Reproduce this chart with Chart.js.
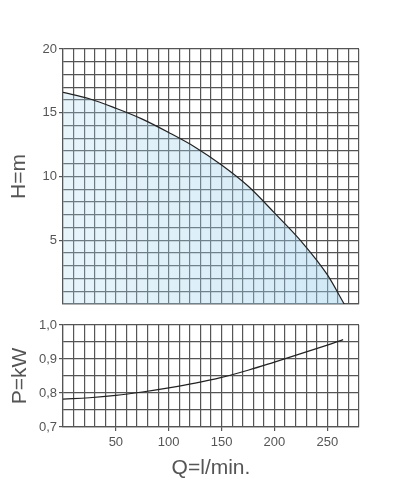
<!DOCTYPE html>
<html>
<head>
<meta charset="utf-8">
<script src="https://cdn.jsdelivr.net/npm/chart.js@4"></script>
<style>
  body { margin: 0; background: #fff; }
  .box { position: absolute; left: 0; }
</style>
</head>
<body>
<div class="box" style="top:0"><canvas id="headChart" width="396" height="320"></canvas></div>
<div class="box" style="top:300px"><canvas id="powerChart" width="396" height="190"></canvas></div>
<script>
// head curve H (m) against flow Q (l/min)
const headQ = [0, 25, 50, 75, 100, 125, 150, 175, 200, 225, 250, 266];
const headH = [16.6, 16.1, 15.35, 14.5, 13.45, 12.3, 10.9, 9.25, 7.15, 4.95, 2.3, 0];

// absorbed power P (kW) against flow Q (l/min)
const powerQ = [0, 25, 50, 75, 100, 125, 150, 175, 200, 225, 250, 265];
const powerP = [0.782, 0.786, 0.793, 0.803, 0.815, 0.829, 0.846, 0.867, 0.891, 0.916, 0.941, 0.957];

const headTicks = [5, 10, 15, 20];
const powerTicks = [0.7, 0.8, 0.9, 1.0];
const flowTicks = [50, 100, 150, 200, 250];

const FONT = "'Liberation Sans', Arial, sans-serif";
const GRID = '#555';
const TEXT = '#555';

function points(xs, ys) {
  return xs.map((x, i) => ({ x: x, y: ys[i] }));
}

function gridOpts(isMajor) {
  return {
    color: GRID,
    lineWidth: 1.2,
    tickLength: 4,
    tickColor: ctx => (ctx.tick && isMajor(ctx.tick.value)) ? GRID : 'rgba(0,0,0,0)'
  };
}

// light blue area, a little stronger toward the right like the print
function headFill(ctx) {
  const area = ctx.chart.chartArea;
  if (!area) return 'rgba(170, 215, 238, 0.35)';
  const g = ctx.chart.ctx.createLinearGradient(area.left, 0, area.right, 0);
  g.addColorStop(0, 'rgba(170, 215, 238, 0.28)');
  g.addColorStop(1, 'rgba(150, 205, 235, 0.45)');
  return g;
}

const isHeadTick = v => headTicks.includes(v);
const isPowerTick = v => powerTicks.some(t => Math.abs(t - v) < 1e-6);
const isFlowTick = v => flowTicks.includes(v);

new Chart(document.getElementById('headChart'), {
  type: 'line',
  data: {
    datasets: [{
      data: points(headQ, headH),
      borderColor: '#222',
      borderWidth: 1.2,
      backgroundColor: headFill,
      fill: 'origin',
      pointRadius: 0,
      cubicInterpolationMode: 'monotone'
    }]
  },
  options: {
    responsive: false,
    animation: false,
    layout: { padding: { left: 0, right: 37, top: 49, bottom: 0 } },
    plugins: { legend: { display: false }, tooltip: { enabled: false } },
    scales: {
      x: {
        type: 'linear', min: 0, max: 280,
        grid: { color: GRID, lineWidth: 1.2, drawTicks: false },
        border: { color: GRID, width: 1.2 },
        ticks: { stepSize: 10, autoSkip: false, maxTicksLimit: 100, display: false },
        afterFit: s => { s.height = 16; }
      },
      y: {
        min: 0, max: 20,
        grid: gridOpts(isHeadTick),
        border: { color: GRID, width: 1.2 },
        ticks: {
          stepSize: 1, autoSkip: false, maxTicksLimit: 100, padding: 2,
          color: TEXT, font: { family: FONT, size: 13 },
          callback: v => isHeadTick(v) ? String(v) : ''
        },
        title: {
          display: true, text: 'H=m', color: TEXT,
          font: { family: FONT, size: 21 }, padding: { top: 7, bottom: 0 }
        },
        afterFit: s => { s.width = 63; }
      }
    }
  }
});

new Chart(document.getElementById('powerChart'), {
  type: 'line',
  data: {
    datasets: [{
      data: points(powerQ, powerP),
      borderColor: '#222',
      borderWidth: 1.2,
      fill: false,
      pointRadius: 0,
      tension: 0.4
    }]
  },
  options: {
    responsive: false,
    animation: false,
    layout: { padding: { left: 0, right: 37, top: 25, bottom: 0 } },
    plugins: { legend: { display: false }, tooltip: { enabled: false } },
    scales: {
      x: {
        type: 'linear', min: 0, max: 280,
        grid: gridOpts(isFlowTick),
        border: { color: GRID, width: 1.2 },
        ticks: {
          stepSize: 10, autoSkip: false, maxTicksLimit: 100, padding: 4, maxRotation: 0,
          color: TEXT, font: { family: FONT, size: 13 },
          callback: v => isFlowTick(v) ? String(v) : ''
        },
        title: {
          display: true, text: 'Q=l/min.', color: TEXT,
          font: { family: FONT, size: 21 }, padding: { top: 0, bottom: 9 }
        },
        afterFit: s => { s.height = 63; }
      },
      y: {
        min: 0.7, max: 1.0,
        grid: gridOpts(isPowerTick),
        border: { color: GRID, width: 1.2 },
        ticks: {
          stepSize: 0.05, autoSkip: false, maxTicksLimit: 100, padding: 2,
          color: TEXT, font: { family: FONT, size: 13 },
          callback: v => isPowerTick(v) ? v.toFixed(1).replace('.', ',') : ''
        },
        title: {
          display: true, text: 'P=kW', color: TEXT,
          font: { family: FONT, size: 21 }, padding: { top: 8, bottom: 0 }
        },
        afterFit: s => { s.width = 63; }
      }
    }
  }
});
</script>
</body>
</html>
